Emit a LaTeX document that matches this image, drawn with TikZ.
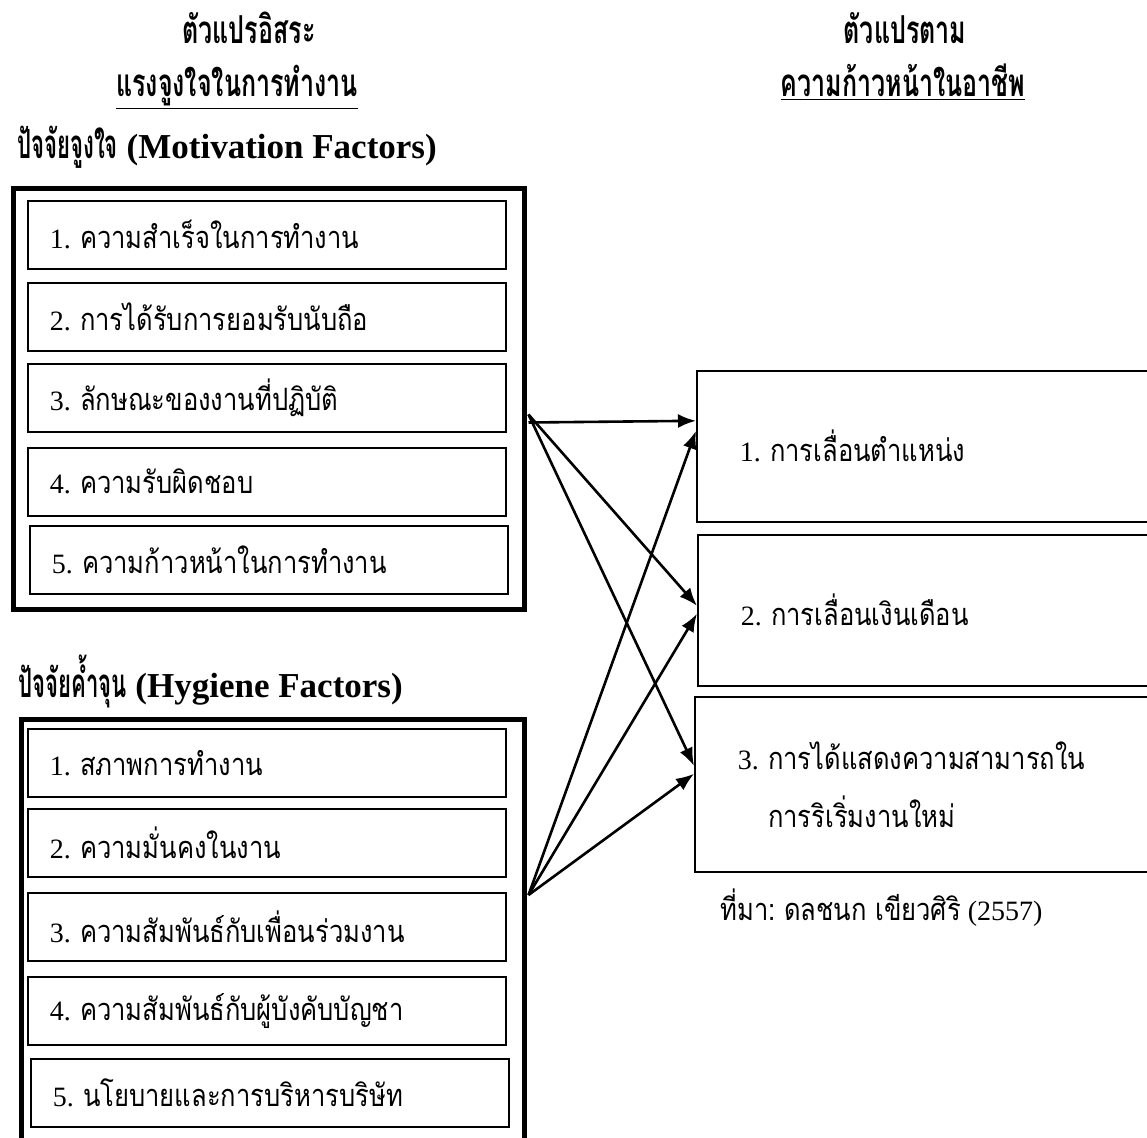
\documentclass[tikz,border=0pt]{standalone}
\usepackage{fontspec}
\setmainfont{Liberation Serif}
\newfontfamily\thaifont[Script=Thai, Scale=1.1, FakeStretch=0.83,
    BoldFeatures={FakeStretch=0.65}]{Loma}
\newfontfamily\thaihead[Script=Thai, Scale=1.15, FakeStretch=0.55]{Loma}
\newcommand{\tha}[1]{{\thaifont #1}}
\newcommand{\thahead}[1]{{\thaihead #1}}
\frenchspacing
\usetikzlibrary{arrows.meta,calc}

\begin{document}
\begin{tikzpicture}[x=0.5pt,y=-0.5pt,
    head/.style={font=\fontsize{17.5pt}{22pt}\selectfont\bfseries, inner sep=0pt},
    outerbox/.style={draw, line width=2.5pt, anchor=north west},
    item/.style={draw, line width=0.8pt, anchor=north west, minimum width=239pt, minimum height=34pt,
        inner xsep=11pt, text width=217pt, align=left, font=\fontsize{14pt}{17pt}\selectfont},
    resbox/.style={draw, line width=0.8pt, anchor=north west, minimum width=240pt,
        inner xsep=21.5pt, text width=197pt, align=left, font=\fontsize{14pt}{29pt}\selectfont},
    arr/.style={-{Latex[length=9pt,width=7pt]}, line width=1.3pt}]
    \useasboundingbox (0,0) rectangle (1147,1137);
    \clip (0,0) rectangle (1147,1137);

    % headings
    \node [head, anchor=base] (lt1) at (249,43) {\tha{ตัวแปรอิสระ}};
    \node [head, anchor=base] (lt2) at (237,96) {\underline{\tha{แรงจูงใจในการทำงาน}}};
    \node [head, anchor=base] (rt1) at (905,43) {\tha{ตัวแปรตาม}};
    \node [head, anchor=base] (rt2) at (903,96) {\underline{\tha{ความก้าวหน้าในอาชีพ}}};

    % motivation factors
    \node [head, anchor=base west] (mothead) at (17,158) {\thahead{ปัจจัยจูงใจ} (Motivation Factors)};
    \node [outerbox, minimum width=255.5pt, minimum height=210.5pt] (motbox) at (10.5,185.5) {};
    \node [item] (m1) at (27,200) {1. \tha{ความสำเร็จในการทำงาน}};
    \node [item] (m2) at (27,282) {2. \tha{การได้รับการยอมรับนับถือ}};
    \node [item] (m3) at (27,363) {3. \tha{ลักษณะของงานที่ปฏิบัติ}};
    \node [item] (m4) at (27,447) {4. \tha{ความรับผิดชอบ}};
    \node [item] (m5) at (29,525) {5. \tha{ความก้าวหน้าในการทำงาน}};

    % hygiene factors
    \node [head, anchor=base west] (hyghead) at (18,697) {\thahead{ปัจจัยค้ำจุน} (Hygiene Factors)};
    \node [outerbox, minimum width=251.5pt, minimum height=220pt] (hygbox) at (18.5,717) {};
    \node [item] (h1) at (27,728) {1. \tha{สภาพการทำงาน}};
    \node [item] (h2) at (27,808) {2. \tha{ความมั่นคงในงาน}};
    \node [item] (h3) at (27,892) {3. \tha{ความสัมพันธ์กับเพื่อนร่วมงาน}};
    \node [item] (h4) at (27,976) {4. \tha{ความสัมพันธ์กับผู้บังคับบัญชา}};
    \node [item] (h5) at (30,1058) {5. \tha{นโยบายและการบริหารบริษัท}};

    % career advancement
    \node [resbox, minimum height=75.5pt] (r1) at (696,370) {1. \tha{การเลื่อนตำแหน่ง}};
    \node [resbox, minimum height=75.5pt] (r2) at (697,534) {2. \tha{การเลื่อนเงินเดือน}};
    \node [resbox, minimum height=87.5pt] (r3) at (694,696)
        {3. \tha{การได้แสดงความสามารถใน}\\\hphantom{3. }\tha{การริเริ่มงานใหม่}};
    \node [anchor=base west, inner sep=0pt, font=\fontsize{14pt}{17pt}\selectfont] (src) at (720,920)
        {\tha{ที่มา: ดลชนก เขียวศิริ} (2557)};

    % arrows
    \coordinate (mout) at ($(motbox.east)+(2,16)$);
    \coordinate (hout) at ($(hygbox.north east)+(2,178)$);
    \draw [arr] ($(mout)+(0,8)$) -- ($(r1.west)+(0,-25.5)$);
    \draw [arr] (mout) -- ($(r2.west)+(0,-4.5)$);
    \draw [arr] (mout) -- ($(r3.west)+(0,-18.5)$);
    \draw [arr] (hout) -- ($(r1.west)+(0,-15.5)$);
    \draw [arr] (hout) -- ($(r2.west)+(0,3.5)$);
    \draw [arr] (hout) -- ($(r3.west)+(0,-10.5)$);
\end{tikzpicture}
\end{document}
